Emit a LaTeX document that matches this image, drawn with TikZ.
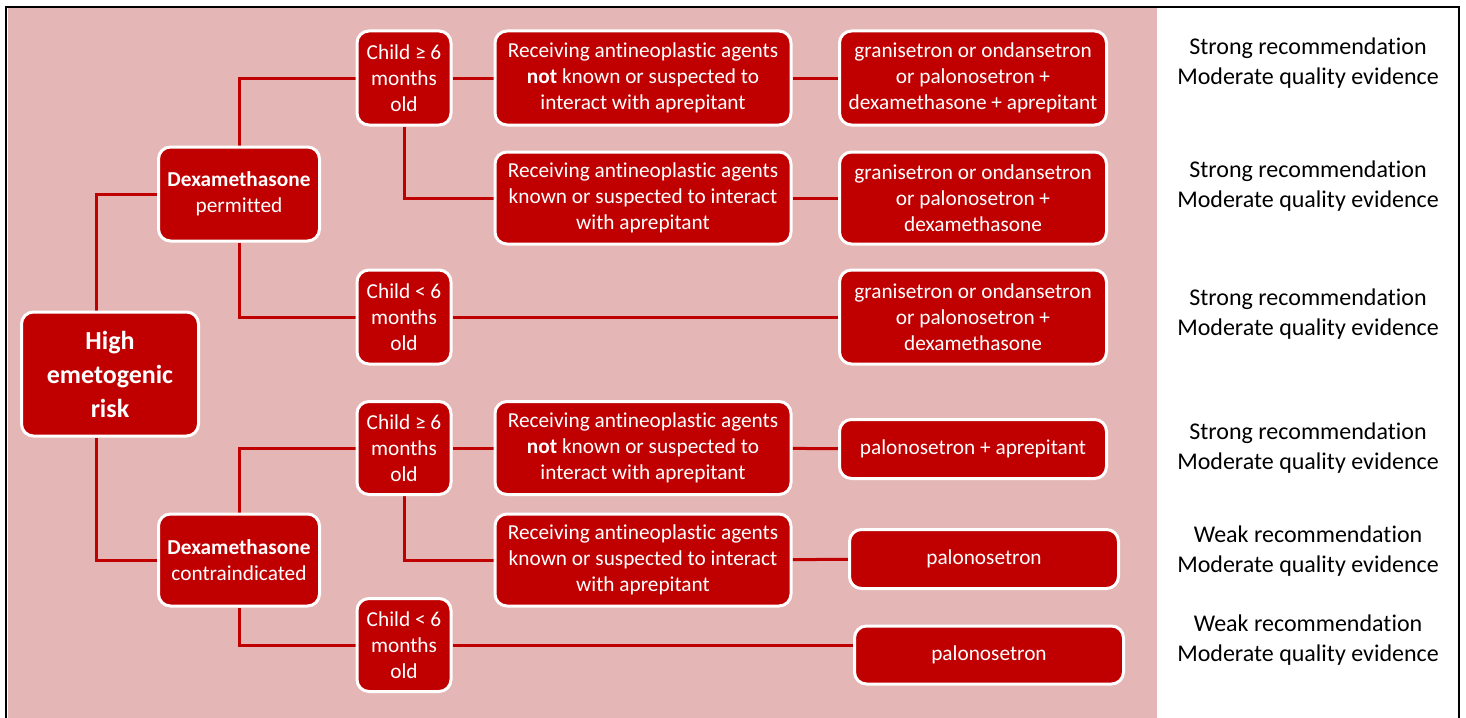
\documentclass[tikz,border=0pt]{standalone}
\usepackage{fontspec}
\setmainfont{Carlito}[Ligatures={NoCommon}]
\usetikzlibrary{backgrounds}
\definecolor{boxred}{HTML}{C00000}
\definecolor{panelpink}{HTML}{E4B6B6}
\newcommand{\CHOICE}[5]{
  \node[box, minimum width=#3pt, minimum height=#4pt] (#1) at #2 {#5};
}

\begin{document}
\begin{tikzpicture}[x=1pt, y=-1pt,
  box/.style={draw=white, line width=3pt, fill=boxred, rounded corners=12pt,
    text=white, align=center, inner sep=0pt, font=\fontsize{21.3}{26}\selectfont},
  link/.style={draw=boxred, line width=3pt},
  grade/.style={align=center, font=\fontsize{24}{30}\selectfont}]
  \useasboundingbox (0,0) rectangle (1466,717);

  \node[box, minimum width=177pt, minimum height=124pt,
    font=\fontsize{26}{34}\selectfont\bfseries] (high) at (110,374) {High\\emetogenic\\risk};
  \CHOICE{dexp}{(239,194)}{161}{94}{\textbf{Dexamethasone}\\permitted}
  \CHOICE{dexc}{(239,560)}{161}{92}{\textbf{Dexamethasone}\\contraindicated}

  \CHOICE{childa}{(404,78)}{94}{94}{Child ≥ 6\\months\\old}
  \CHOICE{recva}{(643,78)}{296}{94}{Receiving antineoplastic agents\\\textbf{not} known or suspected to\\interact with aprepitant}
  \CHOICE{druga}{(973,78)}{267}{94}{granisetron or ondansetron\\or palonosetron +\\dexamethasone + aprepitant}
  \CHOICE{recvb}{(643,198)}{296}{92}{Receiving antineoplastic agents\\known or suspected to interact\\with aprepitant}
  \CHOICE{drugb}{(973,198)}{267}{92}{granisetron or ondansetron\\or palonosetron +\\dexamethasone}
  \CHOICE{childb}{(404,317)}{94}{94}{Child < 6\\months\\old}
  \CHOICE{drugc}{(973,317)}{267}{94}{granisetron or ondansetron\\or palonosetron +\\dexamethasone}

  \CHOICE{childc}{(404,448)}{94}{93}{Child ≥ 6\\months\\old}
  \CHOICE{recvc}{(643,448)}{296}{93}{Receiving antineoplastic agents\\\textbf{not} known or suspected to\\interact with aprepitant}
  \CHOICE{drugd}{(973,449)}{267}{59}{palonosetron + aprepitant}
  \CHOICE{recvd}{(643,560)}{296}{92}{Receiving antineoplastic agents\\known or suspected to interact\\with aprepitant}
  \CHOICE{druge}{(984,559)}{269}{59}{palonosetron}
  \CHOICE{childd}{(404,645)}{94}{93}{Child < 6\\months\\old}
  \CHOICE{drugf}{(989,655)}{269}{58}{palonosetron}

  \node[grade] (grada) at (1308,63) {Strong recommendation\\Moderate quality evidence};
  \node[grade] (gradb) at (1308,186) {Strong recommendation\\Moderate quality evidence};
  \node[grade] (gradc) at (1308,314) {Strong recommendation\\Moderate quality evidence};
  \node[grade] (gradd) at (1308,448) {Strong recommendation\\Moderate quality evidence};
  \node[grade] (grade) at (1308,551) {Weak recommendation\\Moderate quality evidence};
  \node[grade] (gradf) at (1308,640) {Weak recommendation\\Moderate quality evidence};

  \begin{scope}[on background layer]
    \fill[panelpink] (8,8) rectangle (1157,720);
    \draw[line width=2pt] (6,722) |- (1459,7) -- (1459,722);

    \draw[link] ([xshift=-14pt]high.north) |- (dexp.west);
    \draw[link] ([xshift=-14pt]high.south) |- (dexc.west);

    \draw[link] (dexp.north) |- (childa.west);
    \draw[link] (dexp.south) |- (childb.west);
    \draw[link] (childa) -- (recva);
    \draw[link] (childa.south) |- (recvb.west);
    \draw[link] (recva) -- (druga);
    \draw[link] (recvb) -- (drugb);
    \draw[link] (childb) -- (drugc);

    \draw[link] (dexc.north) |- (childc.west);
    \draw[link] (dexc.south) |- (childd.west);
    \draw[link] (childc) -- (recvc);
    \draw[link] (childc.south) |- (recvd.west);
    \draw[link] (recvc) -- (drugd);
    \draw[link] (recvd) -- (druge);
    \draw[link] (childd.east) -- (childd.east -| drugf.west);
  \end{scope}
\end{tikzpicture}
\end{document}
